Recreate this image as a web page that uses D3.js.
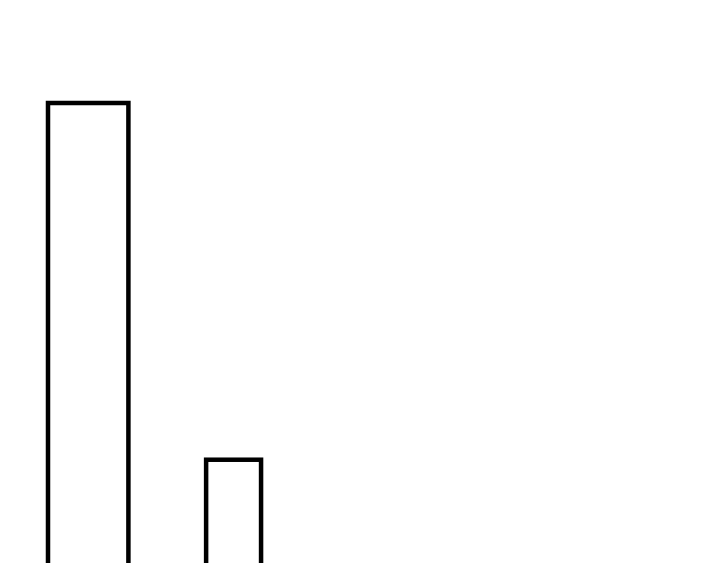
<!DOCTYPE html>
<html>
<head>
<meta charset="utf-8">
<script src="https://cdn.jsdelivr.net/npm/d3@7"></script>
<style>
  body { margin: 0; background: #fff; }
</style>
</head>
<body>
<div id="chart"></div>
<script>
// bar data: left and right edges, plus the height
const barStart = [0, 5.9];
const barEnd = [3.0, 7.95];
const barValue = [100, 31];

const width = 720,
    height = 563;

const svg = d3.select("#chart")
  .append("svg")
    .attr("width", width)
    .attr("height", height);

// x: edges in data units, y: baseline sits below the visible area
const x = d3.scaleLinear()
    .domain([0, 10])
    .range([48, 48 + 268]);

const y = d3.scaleLinear()
    .domain([0, 100])
    .range([620, 103]);

const bars = barValue.map((v, i) => ({x0: barStart[i], x1: barEnd[i], v: v}));

svg.selectAll("rect")
  .data(bars)
  .join("rect")
    .attr("x", d => x(d.x0))
    .attr("y", d => y(d.v))
    .attr("width", d => x(d.x1) - x(d.x0))
    .attr("height", d => y(0) - y(d.v))
    .style("fill", "#fff")
    .style("stroke", "#000")
    .style("stroke-width", 4.5);
</script>
</body>
</html>
